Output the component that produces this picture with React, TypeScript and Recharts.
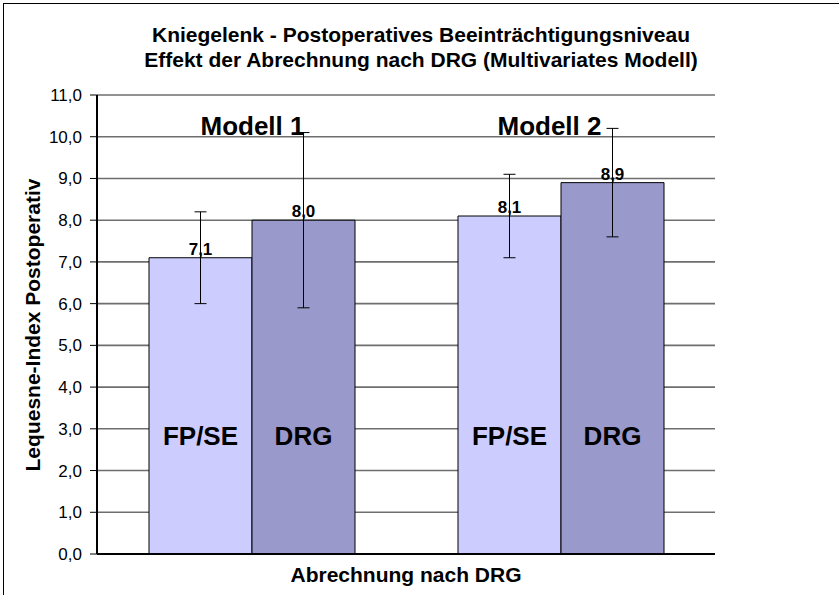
import React from 'react';
import { BarChart, Bar, XAxis, YAxis, CartesianGrid, ErrorBar, LabelList } from 'recharts';

const categories = ['Modell 1', 'Modell 2'];
const fpseValues = [7.1, 8.1];
const drgValues = [8.0, 8.9];
// [minus, plus] around the bar value
const fpseErrors = [[1.1, 1.1], [1.0, 1.0]];
const drgErrors = [[2.1, 2.1], [1.3, 1.3]];
const yTicks = [0, 1, 2, 3, 4, 5, 6, 7, 8, 9, 10, 11];

const data = categories.map((name, i) => ({
  name,
  fpse: fpseValues[i],
  drg: drgValues[i],
  fpseErr: fpseErrors[i],
  drgErr: drgErrors[i],
}));

const FONT = '"Liberation Sans", Arial, sans-serif';
const fmt = (v: number) => v.toFixed(1).replace('.', ',');

// the group titles sit a little left of centre on the second group in the original
const tickShift = [1, -11];

const CategoryTick = (props: any) => {
  const { x, payload, index } = props;
  return (
    <text x={x + (tickShift[index] || 0)} y={135} textAnchor="middle" fontFamily={FONT} fontWeight="bold" fontSize={26} fill="#000">
      {payload.value}
    </text>
  );
};

const seriesName = (label: string) => (props: any) => {
  const { x, y, width, height } = props;
  return (
    <text
      x={x + width / 2}
      y={y + height - 109}
      textAnchor="middle"
      fontFamily={FONT}
      fontWeight="bold"
      fontSize={26}
      fill="#000"
    >
      {label}
    </text>
  );
};

export default function App() {
  return (
    <div style={{ position: 'absolute', left: 0, top: 0, width: 839, height: 595, overflow: 'hidden', background: '#fff', fontFamily: FONT }}>
      <div style={{ position: 'absolute', left: 3, top: 3, width: 900, height: 700, borderLeft: '1px solid #000', borderTop: '1px solid #000' }} />
      <div style={{ position: 'absolute', left: 0, top: 22, width: 842, textAlign: 'center', fontSize: 21, fontWeight: 'bold', lineHeight: '25px' }}>
        Kniegelenk - Postoperatives Beeinträchtigungsniveau
        <br />
        Effekt der Abrechnung nach DRG (Multivariates Modell)
      </div>
      <BarChart
        width={839}
        height={595}
        data={data}
        margin={{ top: 95, right: 124, bottom: 11, left: 17 }}
        barGap={0}
        style={{ position: 'absolute', left: 0, top: 0 }}
      >
        <CartesianGrid horizontal vertical={false} stroke="#6e6e6e" strokeWidth={1.6} />
        <XAxis
          dataKey="name"
          height={30}
          axisLine={{ stroke: '#000', strokeWidth: 2 }}
          tickLine={false}
          tick={<CategoryTick />}
          interval={0}
        />
        <YAxis
          width={80}
          domain={[0, 11]}
          ticks={yTicks}
          interval={0}
          tickFormatter={fmt}
          tickSize={7}
          tickMargin={8}
          axisLine={{ stroke: '#000', strokeWidth: 2 }}
          tickLine={{ stroke: '#000' }}
          tick={{ fill: '#000', fontSize: 17, fontFamily: FONT }}
        />
        <Bar dataKey="fpse" fill="#CCCCFF" stroke="#000" strokeWidth={1} barSize={103} isAnimationActive={false}>
          <ErrorBar dataKey="fpseErr" width={6} stroke="#000" strokeWidth={1} direction="y" />
          <LabelList dataKey="fpse" position="top" offset={3} formatter={(v: any) => fmt(Number(v))} fill="#000" fontSize={17} fontWeight="bold" fontFamily={FONT} />
          <LabelList dataKey="fpse" content={seriesName('FP/SE')} />
        </Bar>
        <Bar dataKey="drg" fill="#9999CC" stroke="#000" strokeWidth={1} barSize={103} isAnimationActive={false}>
          <ErrorBar dataKey="drgErr" width={6} stroke="#000" strokeWidth={1} direction="y" />
          <LabelList dataKey="drg" position="top" offset={3} formatter={(v: any) => fmt(Number(v))} fill="#000" fontSize={17} fontWeight="bold" fontFamily={FONT} />
          <LabelList dataKey="drg" content={seriesName('DRG')} />
        </Bar>
      </BarChart>
      <div style={{ position: 'absolute', left: 97, top: 563, width: 618, textAlign: 'center', fontSize: 21, fontWeight: 'bold', lineHeight: '24px' }}>
        Abrechnung nach DRG
      </div>
      <div style={{ position: 'absolute', left: 33 - 200, top: 325 - 12, width: 400, height: 24, textAlign: 'center', fontSize: 21, fontWeight: 'bold', lineHeight: '24px', transform: 'rotate(-90deg)' }}>
        Lequesne-Index Postoperativ
      </div>
    </div>
  );
}
